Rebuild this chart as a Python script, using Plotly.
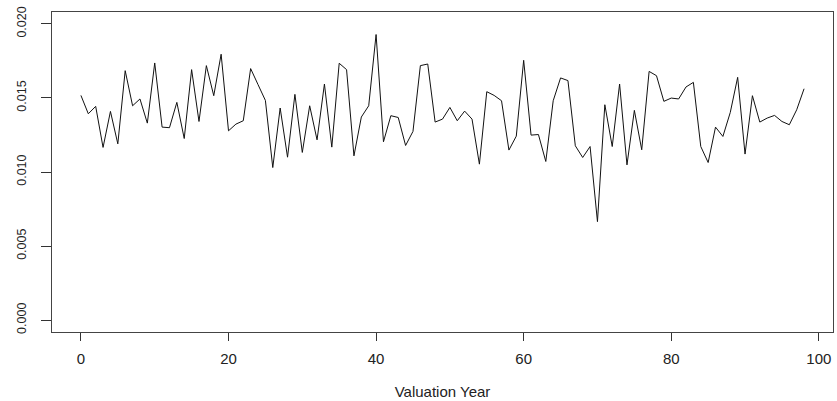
import plotly.graph_objects as go

years = list(range(0, 99))
values = [
    0.01517, 0.01393, 0.01443, 0.01166, 0.01409, 0.01190, 0.01684, 0.01447, 0.01493, 0.01330,
    0.01736, 0.01303, 0.01299, 0.01470, 0.01226, 0.01691, 0.01341, 0.01718, 0.01515, 0.01795,
    0.01278, 0.01323, 0.01346, 0.01698, 0.01590, 0.01483, 0.01030, 0.01432, 0.01100, 0.01524,
    0.01132, 0.01447, 0.01217, 0.01594, 0.01168, 0.01734, 0.01691, 0.01109, 0.01371, 0.01447,
    0.01928, 0.01204, 0.01380, 0.01368, 0.01179, 0.01274, 0.01718, 0.01729, 0.01337, 0.01357,
    0.01436, 0.01346, 0.01411, 0.01357, 0.01053, 0.01542, 0.01517, 0.01481, 0.01148, 0.01242,
    0.01754, 0.01249, 0.01253, 0.01071, 0.01481, 0.01635, 0.01617, 0.01177, 0.01098, 0.01172,
    0.00665, 0.01454, 0.01172, 0.01594, 0.01048, 0.01416, 0.01150, 0.01679, 0.01650, 0.01477,
    0.01499, 0.01493, 0.01574, 0.01605, 0.01172, 0.01064, 0.01303, 0.01240, 0.01402, 0.01639,
    0.01121, 0.01515, 0.01337, 0.01364, 0.01382, 0.01341, 0.01319, 0.01420, 0.01562,
]
x_ticks = [0, 20, 40, 60, 80, 100]
y_ticks = [0.000, 0.005, 0.010, 0.015, 0.020]
y_tick_labels = ["0.000", "0.005", "0.010", "0.015", "0.020"]
x_title = "Valuation Year"

fig = go.Figure()
fig.add_trace(go.Scatter(x=years, y=values, mode="lines",
                         line=dict(color="#111111", width=1), showlegend=False))

fam = "Liberation Sans, Arial, sans-serif"
xfont = dict(family=fam, size=15, color="#222222")
yfont = dict(family=fam, size=12.5, color="#222222")

fig.update_layout(
    width=837, height=401,
    margin=dict(l=52, r=4, t=12, b=69),
    paper_bgcolor="white", plot_bgcolor="white",
    font=xfont,
)
fig.update_xaxes(
    range=[-3.92, 101.92], tickvals=x_ticks, ticktext=[str(v) for v in x_ticks],
    showgrid=False, zeroline=False, showline=True, mirror=True,
    linecolor="#444444", linewidth=1, ticks="outside", ticklen=8, tickcolor="#333333",
    tickfont=xfont, ticklabelstandoff=5,
    title=dict(text=x_title, font=xfont, standoff=20),
)
fig.update_yaxes(
    range=[-0.0008, 0.0208], tickvals=y_ticks, ticktext=y_tick_labels,
    showgrid=False, zeroline=False, showline=True, mirror=True,
    linecolor="#444444", linewidth=1, ticks="outside", ticklen=10, tickcolor="#333333",
    tickfont=yfont, tickangle=-90, ticklabelstandoff=10,
)

fig.write_html("out.html")
